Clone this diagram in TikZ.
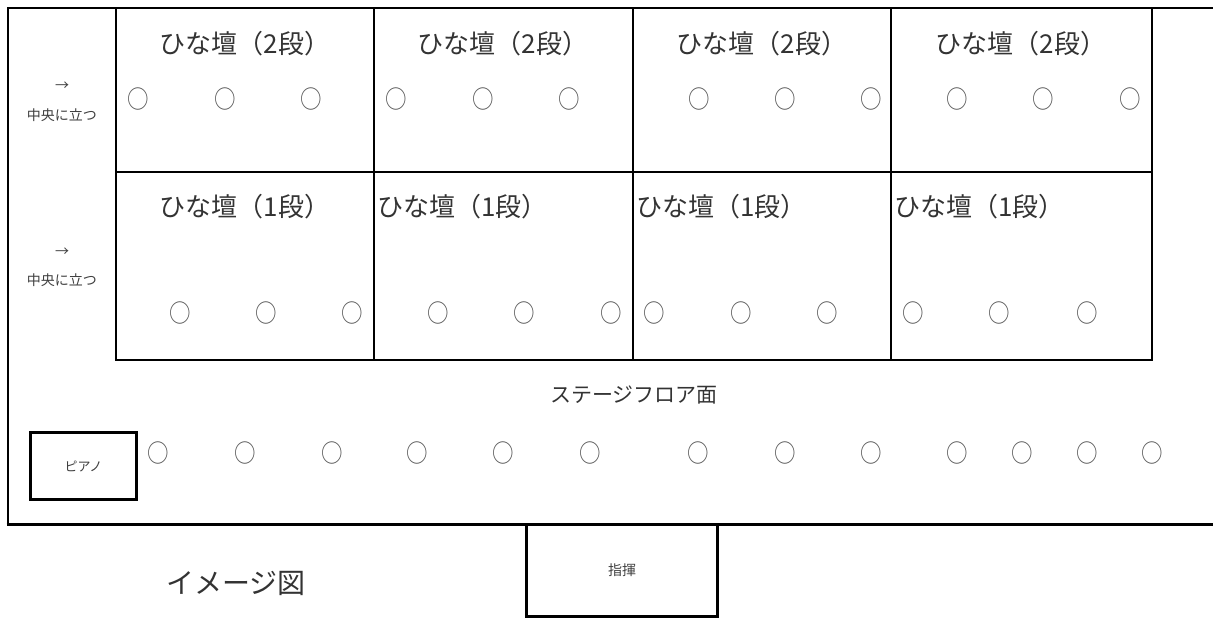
\documentclass[tikz,border=0pt]{standalone}
\usepackage{fontspec}
\setmainfont{Noto Sans CJK JP}
\begin{document}
\begin{tikzpicture}[x=1pt,y=-1pt,
  frame/.style={line width=2pt, black},
  thickframe/.style={line width=3pt, black},
  grid/.style={line width=2pt, black},
  title/.style={inner sep=0pt, text=black!80, font=\fontsize{26}{26}\selectfont},
  floorlbl/.style={inner sep=0pt, text=black!80, font=\fontsize{21}{21}\selectfont},
  caption/.style={inner sep=0pt, text=black!80, font=\fontsize{28}{28}\selectfont},
  smalllbl/.style={inner sep=0pt, text=black!75, font=\fontsize{14}{14}\selectfont},
  seat/.style={inner sep=0pt, text=black!65, font=\fontsize{25}{25}\selectfont},
  boxnode/.style={draw, line width=3pt, inner sep=0pt, text=black!75, font=\fontsize{14}{14}\selectfont}]
\useasboundingbox (0,0) rectangle (1213,621);
\fill[white] (0,0) rectangle (1213,621);
% outer frame (open on the right, cut by the page edge)
\draw[frame] (1213,8) -- (8,8) -- (8,524.5);
\draw[thickframe] (6.5,524.5) -- (1213,524.5);
% hina-dan grid
\foreach \gx in {116,374,633,891,1152} \draw[grid] (\gx,8) -- (\gx,360);
\draw[grid] (115,172) -- (1153,172);
\draw[grid] (115,360) -- (1153,360);
% left labels
\node[smalllbl] (a1) at (62,86) {→};
\node[smalllbl] (c1) at (62,115) {中央に立つ};
\node[smalllbl] (a2) at (62,252) {→};
\node[smalllbl] (c2) at (62,280) {中央に立つ};
% titles
\node[title] (h21) at (245,44) {ひな壇（2段）};
\node[title] (h22) at (503,44) {ひな壇（2段）};
\node[title] (h23) at (762,44) {ひな壇（2段）};
\node[title] (h24) at (1021,44) {ひな壇（2段）};
\node[title] (h11) at (245,207) {ひな壇（1段）};
\node[title, anchor=west] (h12) at (377,207) {ひな壇（1段）};
\node[title, anchor=west] (h13) at (636,207) {ひな壇（1段）};
\node[title, anchor=west] (h14) at (894,207) {ひな壇（1段）};
% seats
\foreach \sx [count=\i] in {138,225,311,396,483,569,699,785,871,957,1043,1130}
  \node[seat] (u\i) at (\sx,99) {\scalebox{0.86}[1]{○}};
\foreach \sx [count=\i] in {180,266,352,438,524,611,654,741,827,913,999,1087}
  \node[seat] (m\i) at (\sx,313) {\scalebox{0.86}[1]{○}};
\foreach \sx [count=\i] in {158,245,332,417,503,590,698,785,871,957,1022,1087,1152}
  \node[seat] (f\i) at (\sx,453) {\scalebox{0.86}[1]{○}};
% floor label
\node[floorlbl] (floor) at (634,395) {ステージフロア面};
% piano and conductor
\node[boxnode, minimum width=106pt, minimum height=67pt, font=\fontsize{13}{13}\selectfont] (piano) at (83.5,466) {ピアノ};
\node[boxnode, minimum width=191pt, minimum height=92pt] (cond) at (622,570.5) {指揮};
% caption
\node[caption] (cap) at (236,583) {イメージ図};
\end{tikzpicture}
\end{document}
